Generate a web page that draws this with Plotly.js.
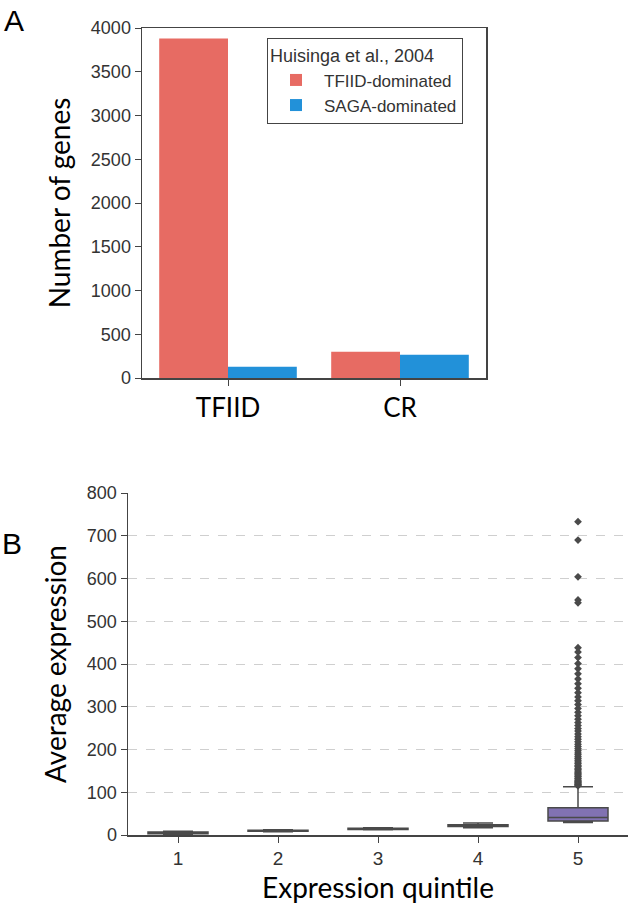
<!DOCTYPE html>
<html>
<head>
<meta charset="utf-8">
<script src="https://cdn.plot.ly/plotly-3.0.1.min.js"></script>
<style>
  body { margin: 0; background: #fff; }
  #graphDiv { width: 628px; height: 904px; }
</style>
</head>
<body>
<div id="graphDiv"></div>
<script>
// panel A: gene counts
var groups = ['TFIID', 'CR'];
var tfiidDominated = [3880, 300];
var sagaDominated = [130, 265];

// panel B: expression by quintile (box stats)
var quintiles = ['1', '2', '3', '4', '5'];
var lowFence = [0.5, 7.5, 12.5, 17, 29.5];
var q1 = [3, 9, 13, 20, 33];
var med = [5, 10, 14.5, 22, 41];
var q3 = [7, 11, 15.5, 24, 64];
var highFence = [9, 12.5, 17, 28, 113];
var outliers5 = [115, 117, 118, 120, 122, 124, 126, 128, 131, 133, 136, 138, 141, 144, 147,
  150, 153, 156, 160, 163, 167, 171, 175, 179, 183, 188, 192, 197, 202, 207, 212, 218,
  224, 230, 236, 243, 249, 256, 263, 271, 279, 287, 296, 305, 314, 323, 333, 343, 354,
  365, 377, 389, 401, 415, 428, 438, 543, 550, 604, 690, 733];

var sans = 'Liberation Sans, Arial, sans-serif';
var yTickFont = {family: sans, size: 18, color: '#333'};
var bigFont = {family: 'Lato, sans-serif', size: 28, color: '#000'};
var W = 628, H = 904;

function drawGraph() {
  var tfTrace = {
    x: groups, y: tfiidDominated, type: 'bar', name: 'TFIID-dominated',
    marker: {color: '#e76b63'}, xaxis: 'x', yaxis: 'y'
  };
  var sagaTrace = {
    x: groups, y: sagaDominated, type: 'bar', name: 'SAGA-dominated',
    marker: {color: '#2291d9'}, xaxis: 'x', yaxis: 'y'
  };
  var boxTrace = {
    type: 'box', x: quintiles, q1: q1, median: med, q3: q3,
    lowerfence: lowFence, upperfence: highFence,
    boxpoints: false, width: 0.6, whiskerwidth: 0.5,
    fillcolor: '#8172b2', line: {color: '#4a4a4a', width: 1.5},
    showlegend: false, xaxis: 'x2', yaxis: 'y2'
  };
  var outTrace = {
    type: 'scatter', mode: 'markers',
    x: outliers5.map(function () { return '5'; }), y: outliers5,
    marker: {symbol: 'diamond', size: 6, color: '#4a4a4a'},
    showlegend: false, xaxis: 'x2', yaxis: 'y2'
  };

  var layout = {
    width: W, height: H,
    margin: {l: 0, r: 0, t: 0, b: 0},
    paper_bgcolor: '#fff', plot_bgcolor: '#fff',
    barmode: 'group', bargap: 0.2, bargroupgap: 0,
    showlegend: true,
    legend: {
      x: 267 / W, y: 1 - 38 / H, xanchor: 'left', yanchor: 'top',
      bordercolor: '#444', borderwidth: 1, bgcolor: '#fff',
      font: {family: sans, size: 17, color: '#333'},
      title: {text: 'Huisinga et al., 2004', font: {family: sans, size: 18, color: '#333'}},
      tracegroupgap: 0, itemwidth: 46
    },
    xaxis: {
      domain: [142 / W, 486 / W], anchor: 'y', type: 'category',
      range: [-0.5, 1.5], showline: true, mirror: true, linecolor: '#444', linewidth: 1.5,
      ticks: 'outside', ticklen: 6, tickcolor: '#444', showgrid: false,
      tickfont: {family: 'Lato, sans-serif', size: 26, color: '#000'}, automargin: false
    },
    yaxis: {
      domain: [1 - 378 / H, 1 - 28 / H], anchor: 'x',
      range: [0, 4000], dtick: 500, showline: true, mirror: true, linecolor: '#444', linewidth: 1.5,
      ticks: 'outside', ticklen: 6, tickcolor: '#444', showgrid: false, zeroline: false,
      tickfont: yTickFont, automargin: false,
      title: {text: 'Number of genes', font: bigFont, standoff: 12}
    },
    xaxis2: {
      domain: [128 / W, 1], anchor: 'y2', type: 'category',
      range: [-0.5, 4.5], showline: true, linecolor: '#444', linewidth: 1.5,
      ticks: 'outside', ticklen: 6, tickcolor: '#444', showgrid: false,
      tickfont: {family: sans, size: 19, color: '#333'}, automargin: false,
      title: {text: 'Expression quintile', font: bigFont, standoff: 10}
    },
    yaxis2: {
      domain: [1 - 835 / H, 1 - 493 / H], anchor: 'x2',
      range: [0, 800], dtick: 100, showline: true, linecolor: '#444', linewidth: 1.5,
      ticks: 'outside', ticklen: 6, tickcolor: '#444', zeroline: false,
      showgrid: true, gridcolor: '#cfcfcf', griddash: 'dash', gridwidth: 1,
      tickfont: yTickFont, automargin: false,
      title: {text: 'Average expression', font: bigFont, standoff: 12}
    },
    annotations: [
      {text: 'A', x: 2 / W, y: 1 - 2 / H, xref: 'paper', yref: 'paper', xanchor: 'left', yanchor: 'top',
       showarrow: false, font: {family: sans, size: 30, color: '#000'}},
      {text: 'B', x: 0, y: 1 - 525 / H, xref: 'paper', yref: 'paper', xanchor: 'left', yanchor: 'top',
       showarrow: false, font: {family: sans, size: 30, color: '#000'}}
    ]
  };

  Plotly.newPlot('graphDiv', [tfTrace, sagaTrace, boxTrace, outTrace], layout, {displayModeBar: false, staticPlot: true});
}

document.addEventListener('DOMContentLoaded', drawGraph, false);
</script>
</body>
</html>
